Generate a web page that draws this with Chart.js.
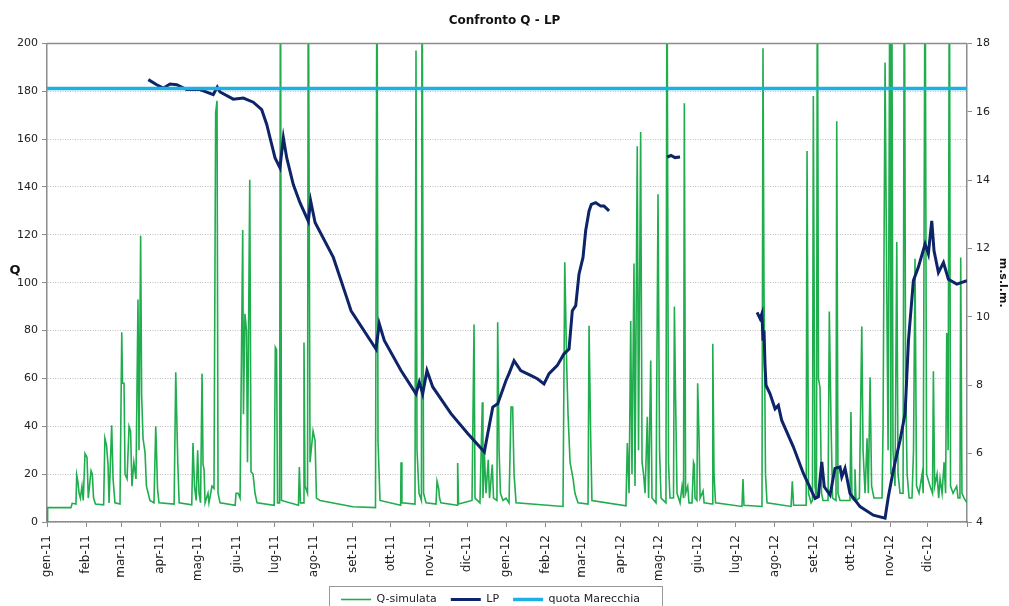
<!DOCTYPE html>
<html>
<head>
<meta charset="utf-8">
<script src="https://cdn.jsdelivr.net/npm/chart.js@4.4.1/dist/chart.umd.min.js"></script>
<style>
  html, body { margin: 0; padding: 0; background: #fff; }
  #wrap { width: 1009px; height: 606px; position: relative; }
</style>
</head>
<body>
<div id="wrap"><canvas id="chart"></canvas></div>
<script>
// Month ticks (day index from 1 Jan 2011)
const monthLabels = ['gen-11', 'feb-11', 'mar-11', 'apr-11', 'mag-11', 'giu-11', 'lug-11', 'ago-11', 'set-11', 'ott-11', 'nov-11', 'dic-11',
                     'gen-12', 'feb-12', 'mar-12', 'apr-12', 'mag-12', 'giu-12', 'lug-12', 'ago-12', 'set-12', 'ott-12', 'nov-12', 'dic-12'];
const monthStartDays = [0, 31, 59, 90, 120, 151, 181, 212, 243, 273, 304, 334,
                        365, 396, 425, 456, 486, 517, 547, 578, 609, 639, 670, 700];
const lastDay = 731;

// Q-simulata (left axis), day / value
const qDays = [0, 0.5, 19, 20, 23, 23.6, 24.5, 25.5, 26.5, 27.8, 28.8, 30.2, 31.8, 32.8, 35, 36, 37, 38.5, 45, 46, 47.3, 48.5, 49.3,
  51.4, 52.5, 54, 58, 59.4, 60, 61.2, 62, 63.6, 65.2, 66.4, 67.5, 69, 70.7, 72.3, 73.1, 74.4, 75.2, 76.3, 77.9, 79, 81.8, 85,
  86.4, 87, 87.8, 89, 101, 102.3, 103.9, 105, 115, 116, 117.2, 118.5, 119.7, 120.8, 122, 123.2, 124, 124.8, 125.6, 127.9, 128.7,
  131.1, 132.7, 134, 135.1, 135.9, 137.5, 149.5, 150.2, 151.8, 153.4, 155.5, 156.1, 157.3, 158.5, 159.3, 161.1, 162.1, 163.7,
  165.3, 166.9, 180.5, 181.4, 182.4, 183.2, 184.8, 185.5, 186.3, 199.8, 200.5, 201.4, 203.5, 204.2, 205, 207, 207.6, 209, 211.4,
  213, 214.1, 217, 243, 261, 262.2, 263, 264.6, 281, 281.3, 282, 292.4, 293.2, 294, 295.6, 297.5, 298, 299.2, 301.2, 309.1,
  309.9, 311.2, 311.9, 313, 325.8, 326.3, 327, 337.7, 339.3, 340.1, 344, 345.9, 346.4, 347.5, 348.8, 350.6, 351.6, 353.8, 354.8,
  357.5, 358.1, 359.2, 360.3, 362.3, 364.7, 367.1, 368.7, 370, 371.1, 372.7, 410, 411.4, 413, 414, 415.6, 418, 419.5, 421.9,
  429.9, 430.7, 432, 433, 460, 461.1, 462.5, 463.8, 464.8, 466.4, 467.2, 469, 470, 471.7, 472.8, 474, 475.2, 477, 478, 479.7,
  480.7, 483.9, 485.5, 486.7, 487.9, 491.8, 492.6, 493.8, 495, 497.8, 498.5, 499.5, 500.6, 503, 504.6, 505.8, 506.4, 507.4,
  509.1, 510.1, 512.5, 513.7, 514.3, 514.9, 516.4, 517, 518.1, 518.9, 521.3, 522.1, 528.4, 529, 530, 531.2, 552.2, 553, 553.8,
  568.1, 568.9, 569.7, 570.9, 572.1, 591.2, 592.2, 593.2, 603.2, 603.9, 605.1, 607.1, 608.2, 608.9, 610.2, 611.4, 612.1, 613,
  614.2, 615.4, 616.6, 620.6, 621.6, 623, 624.2, 626.9, 627.5, 628.5, 630.1, 638, 638.8, 639.6, 641.3, 642, 642.8, 645.5, 646,
  647.4, 648.4, 650, 651.6, 652.6, 654, 655.2, 657.1, 663.5, 664.3, 665.9, 667.2, 668.3, 669.8, 670.5, 671.2, 672.2, 673.8,
  675.2, 676.2, 677.8, 680.2, 681.2, 682.2, 683.4, 685, 687.3, 688.5, 689.7, 690.9, 692.9, 695.3, 696.2, 697.7, 698.9, 701.6,
  703.6, 704.3, 705.3, 707.2, 708.5, 709.6, 711.2, 712.8, 714, 714.9, 716, 717, 717.9, 719.9, 722.8, 723.9, 725.4, 726, 727,
  728.7, 731];
const qValues = [0, 6, 6, 7.8, 7.5, 19.6, 17, 12, 10, 15, 9, 28.6, 27, 10, 21.4, 20, 10, 7.5, 7.2, 35, 32, 24, 8,
  40.4, 18, 8, 7.5, 79.3, 58, 58, 20, 18, 40, 38, 15, 25, 18, 93, 30, 119.6, 53, 35, 29, 15, 9, 8,
  40, 30, 14, 8, 7.5, 62.6, 25, 8, 7.2, 33, 15, 9, 30, 12, 8, 62, 24, 22, 8, 12, 8,
  15, 14, 171, 176, 12, 8, 7, 12, 12, 10, 122, 45, 87, 80, 25, 143, 21, 20,
  12, 8, 7, 73, 72, 8, 8, 250, 9, 7, 23, 8, 8, 75, 15, 12, 250, 25, 38,
  34, 10, 9, 6.4, 6, 250, 34, 9, 7, 25, 8, 7.5, 197, 30, 12, 9, 250, 12, 8, 7.5,
  17, 14, 10, 8, 7, 24.7, 7.5, 9, 82.5, 10, 8, 50, 10, 29, 12, 26, 10, 24, 10,
  9, 83.5, 30, 12, 9, 10, 8, 48, 48, 20, 8, 6.5, 108.5, 64, 45, 25, 18, 12, 8,
  7.5, 82, 35, 9, 6.8, 33, 12, 84, 20, 108, 15, 157, 30, 163, 25, 20, 12, 44, 10, 67.5,
  10, 8, 137, 30, 10, 8, 250, 25, 10, 10, 90, 50, 12, 8, 15, 10, 175, 12,
  15, 8, 8, 25, 24, 10, 9, 58, 35, 10, 13, 8, 7.5, 74.5, 20, 8, 6.5, 18, 7,
  6.5, 198, 98, 20, 8, 6.5, 17, 7, 7, 155, 12, 8, 9, 178, 15, 10, 250, 60,
  56, 12, 9, 9, 88, 40, 10, 9, 167.5, 12, 9, 9, 46, 10, 9, 22, 9, 10, 30,
  81.7, 30, 12, 35, 12, 60.5, 15, 10, 10, 40, 192, 100, 30, 250, 20, 250, 30, 15,
  117, 20, 12, 12, 250, 60, 20, 10, 10, 30, 110, 15, 12, 20, 12, 250, 20, 15,
  12, 63, 15, 20, 10, 18, 12, 25, 12, 79, 30, 250, 15, 12, 15, 10, 10, 110.5, 12,
  10, 8];

// LP (right axis, m s.l.m.), null = no data
const lpDays = [80.5, 87.2, 92.4, 97.7, 103.1, 111, 121.6, 132.1, 135.3, 137.5, 148, 156, 163.9, 170.6, 174.6, 177.2, 181.2,
  185.1, 187.8, 190.5, 195.7, 201, 207.6, 209.5, 213, 227.5, 238.1, 241.6, 261.4, 264, 268, 281.3, 293.2, 295.8, 298.5, 301.9,
  306.5, 321, 334.3, 347.5, 350.2, 354.2, 358.1, 364.7, 367.1, 371.1, 376.4, 384.3, 389.6, 394.9, 398.9, 405.5, 410.8, 414.8,
  417.4, 420.1, 422.7, 425.9, 428, 430.7, 432.5, 436, 440, 442.6, 446.6, 470,
  492.7, 495.8, 499, 503, 530,
  564.2, 566.6, 568.1, 568.9, 569.7, 570.5, 571.3, 574.5, 578.5, 581.1, 583.8, 593, 601, 610.3, 612.9, 615.6, 617.6, 622.2,
  626.1, 630.1, 631.5, 634.1, 638, 646, 656.6, 665.9, 668.5, 672.5, 677.8, 681.8, 684.5, 688.4, 692.3, 697.7, 700.3, 703,
  704.8, 708.3, 712.3, 716.2, 722.9, 730.9];
const lpValues = [16.94, 16.79, 16.69, 16.81, 16.79, 16.65, 16.65, 16.5, 16.72, 16.58, 16.37, 16.4, 16.28, 16.06, 15.63, 15.24, 14.65,
  14.36, 15.24, 14.65, 13.87, 13.34, 12.8, 13.39, 12.76, 11.74, 10.57, 10.18, 9.06, 9.8, 9.31, 8.43, 7.75, 8.09, 7.75, 8.43,
  7.95, 7.17, 6.59, 6.05, 6.59, 7.36, 7.46, 8.14, 8.34, 8.72, 8.43, 8.29, 8.19, 8.04, 8.34, 8.58, 8.92, 9.06,
  10.18, 10.33, 11.25, 11.74, 12.52, 13.1, 13.29, 13.34, 13.24, 13.24, 13.1, null,
  14.67, 14.72, 14.66, 14.68, null,
  10.13, 9.95, 10.1, 9.3, 9.6, 8.6, 8.0, 7.75, 7.31, 7.41, 6.97, 6.2, 5.42, 4.69, 4.74, 5.76, 5.03, 4.79,
  5.57, 5.61, 5.32, 5.57, 4.84, 4.45, 4.2, 4.11, 4.74, 5.52, 6.39, 7.17, 9.31, 11.06, 11.45, 12.13, 11.84, 12.81,
  11.93, 11.3, 11.59, 11.1, 10.96, 11.06];

// quota Marecchia (right axis)
const quotaDays = [0, 731];
const quotaValues = [16.68, 16.68];

const toXY = (xs, ys) => xs.map((x, i) => ({ x: x, y: ys[i] }));

const FONT = '"DejaVu Sans", Verdana, sans-serif';
Chart.defaults.font.family = FONT;
Chart.defaults.color = '#333';

// extra drawing: top frame line, "Q" label, legend frame
const decor = {
  id: 'decor',
  afterLayout(chart) {
    // legend sits a bit left of centre in the original
    const lg = chart.legend;
    lg.left -= 14;
    lg.right -= 14;
    (lg.legendHitBoxes || []).forEach(h => { h.left -= 14; });
  },
  afterDraw(chart) {
    const ctx = chart.ctx;
    const a = chart.chartArea;
    ctx.save();
    ctx.strokeStyle = '#8c8c8c';
    ctx.lineWidth = 1.5;
    ctx.beginPath();
    ctx.moveTo(a.left, a.top);
    ctx.lineTo(a.right, a.top);
    ctx.stroke();

    ctx.fillStyle = '#111';
    ctx.font = 'bold 13px ' + FONT;
    ctx.textAlign = 'center';
    ctx.textBaseline = 'middle';
    ctx.fillText('Q', 15, (a.top + a.bottom) / 2 - 12);

    const hb = chart.legend.legendHitBoxes;
    if (hb && hb.length) {
      const first = hb[0], last = hb[hb.length - 1];
      const l = first.left - 12, r = last.left + last.width + 22, t = first.top - 8;
      ctx.strokeStyle = '#999';
      ctx.lineWidth = 1;
      ctx.strokeRect(Math.round(l) + 0.5, Math.round(t) + 0.5, Math.round(r - l), 40);
    }
    ctx.restore();
  }
};

const ctx = document.getElementById('chart').getContext('2d');
const chart = new Chart(ctx, {
  type: 'line',
  data: {
    datasets: [
      {
        label: 'Q-simulata',
        data: toXY(qDays, qValues),
        yAxisID: 'y',
        borderColor: '#1fad4d',
        backgroundColor: '#1fad4d',
        borderWidth: 1.6,
        pointRadius: 0,
        order: 3
      },
      {
        label: 'LP',
        data: toXY(lpDays, lpValues),
        yAxisID: 'y1',
        borderColor: '#0d2468',
        backgroundColor: '#0d2468',
        borderWidth: 3,
        pointRadius: 0,
        spanGaps: false,
        order: 2
      },
      {
        label: 'quota Marecchia',
        data: toXY(quotaDays, quotaValues),
        yAxisID: 'y1',
        borderColor: '#1bb0e6',
        backgroundColor: '#1bb0e6',
        borderWidth: 3.5,
        pointRadius: 0,
        order: 1
      }
    ]
  },
  options: {
    responsive: true,
    maintainAspectRatio: false,
    animation: false,
    events: [],
    layout: { padding: { left: 0, right: 0, top: 0, bottom: -9 } },
    plugins: {
      title: {
        display: true,
        text: 'Confronto Q - LP',
        color: '#111',
        font: { size: 12, weight: 'bold' },
        padding: { top: 14, bottom: 15 }
      },
      legend: {
        position: 'bottom',
        labels: {
          usePointStyle: true,
          pointStyle: 'line',
          pointStyleWidth: 30,
          boxHeight: 11,
          padding: 14,
          color: '#222',
          font: { size: 11 },
          sort: (a, b) => a.datasetIndex - b.datasetIndex
        }
      },
      tooltip: { enabled: false }
    },
    scales: {
      x: {
        type: 'linear',
        min: 0,
        max: lastDay,
        afterBuildTicks: (axis) => {
          axis.ticks = monthStartDays.concat([lastDay]).map(v => ({ value: v }));
        },
        afterFit: (axis) => { axis.height = 58; },
        ticks: {
          autoSkip: false,
          maxRotation: 90,
          minRotation: 90,
          padding: 8,
          color: '#222',
          font: { size: 12 },
          callback: (v) => {
            const i = monthStartDays.indexOf(v);
            return i >= 0 ? monthLabels[i] : '';
          }
        },
        grid: { drawOnChartArea: false, tickLength: 5, color: '#8c8c8c' },
        border: { color: '#8c8c8c', width: 1.5 }
      },
      y: {
        position: 'left',
        min: 0,
        max: 200,
        afterFit: (axis) => { axis.width = 47; },
        ticks: { stepSize: 20, padding: 4, color: '#222', font: { size: 11 } },
        grid: { color: '#bdbdbd', lineWidth: 1, tickLength: 5, tickColor: '#8c8c8c' },
        border: { color: '#8c8c8c', width: 1.5, dash: [1, 1.5] }
      },
      y1: {
        position: 'right',
        min: 4,
        max: 18,
        afterFit: (axis) => { axis.width = 42; },
        ticks: { stepSize: 2, padding: 4, color: '#222', font: { size: 11 } },
        grid: { drawOnChartArea: false, tickLength: 5, tickColor: '#8c8c8c' },
        border: { color: '#8c8c8c', width: 1.5 },
        title: {
          display: true,
          text: 'm.s.l.m.',
          color: '#111',
          font: { size: 11, weight: 'bold' },
          padding: { top: 0, bottom: 2 }
        }
      }
    }
  },
  plugins: [decor]
});
</script>
</body>
</html>
